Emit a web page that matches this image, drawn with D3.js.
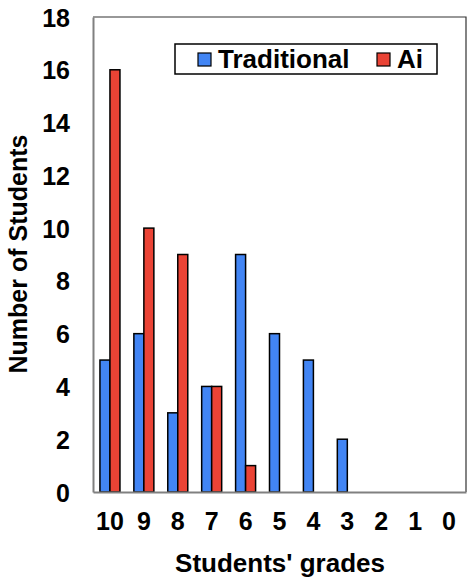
<!DOCTYPE html>
<html>
<head>
<meta charset="utf-8">
<script src="https://cdn.jsdelivr.net/npm/d3@7"></script>
<style>
  body { margin: 0; background: #fff; }
  text { font-family: "Liberation Sans", Arial, sans-serif; font-weight: bold; fill: #000; }
</style>
</head>
<body>
<div id="chart"></div>
<script>
const grades = ['10', '9', '8', '7', '6', '5', '4', '3', '2', '1', '0'];
const traditional = [5, 6, 3, 4, 9, 6, 5, 2, 0, 0, 0];
const ai = [16, 10, 9, 4, 1, 0, 0, 0, 0, 0, 0];
const yTicks = [0, 2, 4, 6, 8, 10, 12, 14, 16, 18];
const seriesNames = ['Traditional', 'Ai'];
const colors = ['#4285f4', '#ea4335'];

var W = 467, H = 582,
    padl = 93, padr = 1, padt = 17, padb = 90,
    w = W - padl - padr,
    h = H - padt - padb;

var svg = d3.select('#chart').append('svg')
    .attr('width', W)
    .attr('height', H);

var x = d3.scaleBand().domain(grades).range([0, w]).padding(0);
var y = d3.scaleLinear().domain([0, 18]).range([h, 0]);
var sub = d3.scaleBand().domain(seriesNames).range([x.bandwidth() / 2 - 10, x.bandwidth() / 2 + 10]);

var vis = svg.append('g')
    .attr('transform', 'translate(' + padl + ',' + padt + ')');

// top + right frame
vis.append('path')
    .attr('d', 'M0,0H' + w + 'V' + h)
    .attr('fill', 'none')
    .attr('stroke', '#333')
    .attr('stroke-width', 1.2);

// bars
var data = grades.map((g, i) => ({ grade: g, values: [traditional[i], ai[i]] }));
var groups = vis.selectAll('g.grade')
    .data(data)
    .enter().append('g')
    .attr('class', 'grade')
    .attr('transform', (d) => 'translate(' + x(d.grade) + ',0)');

groups.selectAll('rect')
    .data((d) => d.values.map((v, j) => ({ name: seriesNames[j], value: v, j: j })).filter((e) => e.value > 0))
    .enter().append('rect')
    .attr('x', (d) => sub(d.name))
    .attr('width', sub.bandwidth())
    .attr('y', (d) => y(d.value))
    .attr('height', (d) => h - y(d.value))
    .attr('fill', (d) => colors[d.j])
    .attr('stroke', '#000')
    .attr('stroke-width', 1.5);

// axes
var yAxis = d3.axisLeft(y).tickValues(yTicks).tickSize(0).tickPadding(23);
var xAxis = d3.axisBottom(x).tickSize(0).tickPadding(20);

var gy = vis.append('g').call(yAxis);
gy.select('.domain').attr('stroke', '#808080').attr('stroke-width', 2);
gy.selectAll('text').style('font-size', '25px').attr('dy', '0.36em');

var gx = vis.append('g').attr('transform', 'translate(0,' + h + ')').call(xAxis);
gx.select('.domain').attr('stroke', '#808080').attr('stroke-width', 2);
gx.selectAll('text').style('font-size', '25px');

// axis titles
svg.append('text')
    .attr('x', 280)
    .attr('y', 572)
    .attr('text-anchor', 'middle')
    .style('font-size', '26px')
    .text("Students' grades");

svg.append('text')
    .attr('transform', 'translate(27,254) rotate(-90)')
    .attr('text-anchor', 'middle')
    .style('font-size', '25px')
    .text('Number of Students');

// legend
var legend = svg.append('g').attr('transform', 'translate(175,44)');
legend.append('rect')
    .attr('width', 262).attr('height', 30)
    .attr('fill', '#fff').attr('stroke', '#000').attr('stroke-width', 1.5);

var lx = [23, 202];
seriesNames.forEach((name, i) => {
  var item = legend.append('g').attr('transform', 'translate(' + lx[i] + ',0)');
  item.append('rect')
    .attr('x', 0).attr('y', 9).attr('width', 13).attr('height', 13)
    .attr('fill', colors[i]).attr('stroke', '#000').attr('stroke-width', 1.2);
  item.append('text')
    .attr('x', 20).attr('y', 24)
    .style('font-size', '26px')
    .text(name);
});
</script>
</body>
</html>
